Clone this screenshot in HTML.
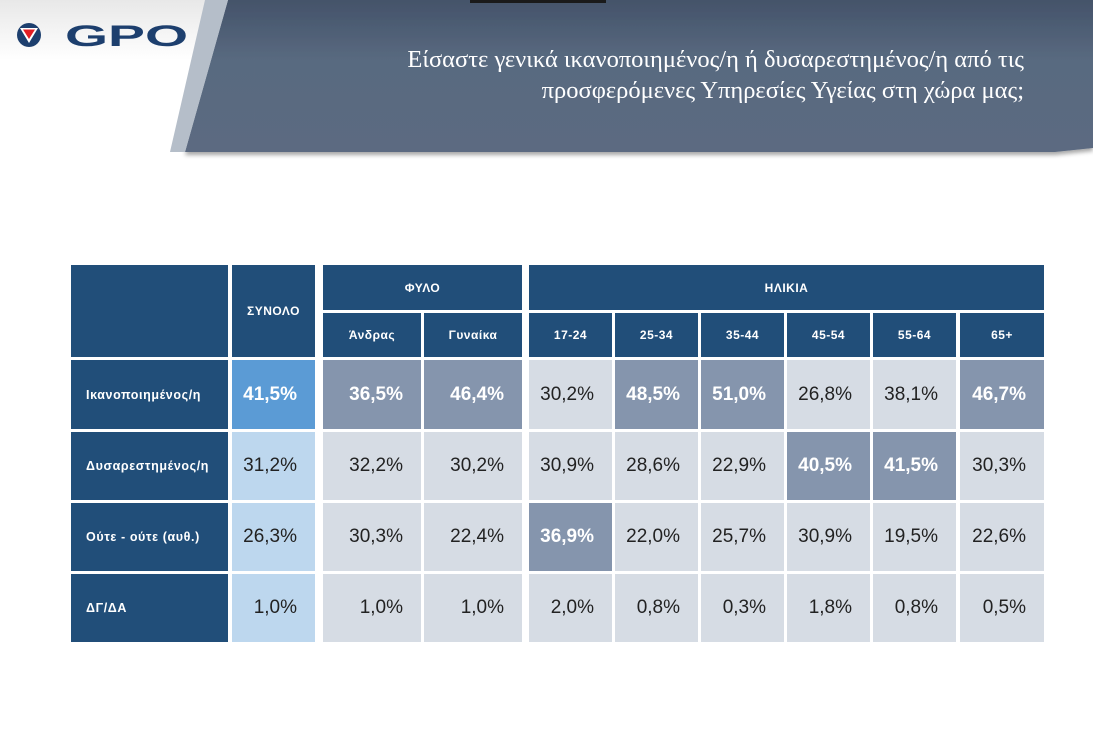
<!DOCTYPE html>
<html><head><meta charset="utf-8">
<style>
body{margin:0;width:1093px;height:746px;background:#fff;position:relative;overflow:hidden;font-family:"Liberation Sans","DejaVu Sans",sans-serif;}
.c{position:absolute;box-sizing:border-box;display:flex;align-items:center;}
.h{background:#214e79;color:#fff;font-weight:bold;font-size:12px;justify-content:center;letter-spacing:0.5px;}
.rl{background:#214e79;color:#fff;font-weight:bold;font-size:12.5px;padding-left:15px;letter-spacing:0.6px;}
.v{justify-content:flex-end;padding-right:18px;font-size:19px;color:#222;}
.v.hi{color:#fff;font-weight:bold;}
</style></head><body>
<div style="position:absolute;left:0;top:0;width:230px;height:150px;background:linear-gradient(#e8e8e8,#fff 40%);"></div>
<svg width="1093" height="165" style="position:absolute;left:0;top:0">
<defs><linearGradient id="g" x1="0" y1="0" x2="0" y2="1"><stop offset="0" stop-color="#44536a"/><stop offset="0.4" stop-color="#596a80"/><stop offset="1" stop-color="#5b6b81"/></linearGradient>
<filter id="s"><feDropShadow dx="0" dy="3" stdDeviation="2" flood-color="#000" flood-opacity="0.35"/></filter></defs>
<polygon points="228,0 1093,0 1093,148 1055,152 185,152" fill="url(#g)" filter="url(#s)"/>
<polygon points="205,0 228,0 185,152 170,152" fill="#b5bec9"/>
<rect x="470" y="0" width="136" height="3" fill="#1a1a1a"/>
<text x="1024" y="67" text-anchor="end" fill="#fff" font-family="Liberation Serif,serif" font-size="24.5">Είσαστε γενικά ικανοποιημένος/η ή δυσαρεστημένος/η από τις</text>
<text x="1024" y="98" text-anchor="end" fill="#fff" font-family="Liberation Serif,serif" font-size="24.5">προσφερόμενες Υπηρεσίες Υγείας στη χώρα μας;</text>
</svg>
<div style="position:absolute;left:0;top:0;">
<svg width="200" height="60"><circle cx="29" cy="35" r="12" fill="#1d3f6e"/><polygon points="20,28 38,28 29,43" fill="#fff"/><polygon points="23,29.5 35,29.5 29,39" fill="#e31e24"/>
<text x="65" y="46" font-family="Liberation Sans,sans-serif" font-weight="bold" font-size="30" fill="#1d3f6e" textLength="123" lengthAdjust="spacingAndGlyphs">GPO</text></svg></div>
<div id="t"></div>
<script>
const cats=["ΣΥΝΟΛΟ","Άνδρας","Γυναίκα","17-24","25-34","35-44","45-54","55-64","65+"];
const rows=["Ικανοποιημένος/η","Δυσαρεστημένος/η","Ούτε - ούτε (αυθ.)","ΔΓ/ΔΑ"];
const satisfied=[41.5,36.5,46.4,30.2,48.5,51.0,26.8,38.1,46.7];
const dissatisfied=[31.2,32.2,30.2,30.9,28.6,22.9,40.5,41.5,30.3];
const neither=[26.3,30.3,22.4,36.9,22.0,25.7,30.9,19.5,22.6];
const dkna=[1.0,1.0,1.0,2.0,0.8,0.3,1.8,0.8,0.5];
const highlight=[[1,1,1,0,1,1,0,0,1],[0,0,0,0,0,0,1,1,0],[0,0,0,1,0,0,0,0,0],[0,0,0,0,0,0,0,0,0]];
const series=[satisfied,dissatisfied,neither,dkna];
const colX=[[232,83],[323,98],[424,98],[529,83],[615,83],[701,83],[787,83],[873,83],[960,84]];
const rowY=[[360,69],[432,68],[503,68],[574,68]];
const T=document.getElementById('t');
function cell(cls,x,y,w,h,txt,bg){const d=document.createElement('div');d.className='c '+cls;d.style.cssText+=`left:${x}px;top:${y}px;width:${w}px;height:${h}px;`+(bg?`background:${bg};`:'');d.textContent=txt;T.appendChild(d);return d;}
let d=cell('h',71,265,157,92,'');


d=cell('h',232,265,83,92,'ΣΥΝΟΛΟ');


d=cell('h',323,265,199,45,'ΦΥΛΟ');


d=cell('h',529,265,515,45,'ΗΛΙΚΙΑ');


for(let i=1;i<cats.length;i++){const e=cell('h',colX[i][0],313,colX[i][1],44,cats[i]);

}
rows.forEach((r,ri)=>{const e=cell('rl',71,rowY[ri][0],157,rowY[ri][1],r);


series[ri].forEach((v,ci)=>{const hi=highlight[ri][ci];let bg;
if(ci===0)bg=hi?'#5b9bd5':'#bdd7ee';else bg=hi?'#8595ad':'#d6dce4';
const c=cell('v'+(hi?' hi':''),colX[ci][0],rowY[ri][0],colX[ci][1],rowY[ri][1],v.toFixed(1).replace('.',',')+'%',bg);

});});
</script>
</body></html>
